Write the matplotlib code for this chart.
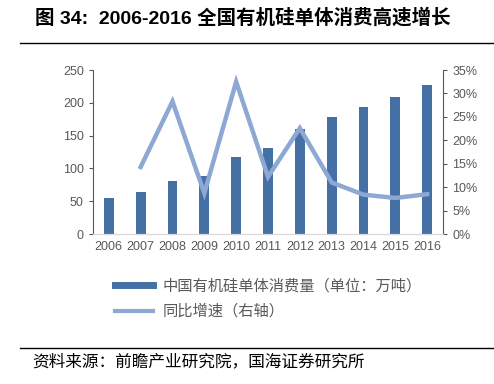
import matplotlib
matplotlib.use("Agg")
import matplotlib.pyplot as plt
from matplotlib.ticker import FuncFormatter
from matplotlib.lines import Line2D

plt.rcParams['font.family'] = ['Liberation Sans', 'Noto Sans CJK SC', 'DejaVu Sans']

# data
years = ['2006', '2007', '2008', '2009', '2010', '2011', '2012', '2013', '2014', '2015', '2016']
consumption = [55.5, 63.6, 81.2, 88.3, 117, 131, 160.6, 179, 194.4, 209.6, 227]
growth_years = years[1:]
growth = [14.3, 28.3, 8.7, 32.5, 12.2, 22.6, 11.0, 8.4, 7.7, 8.5]

bar_color = '#4470A6'
line_color = '#8EA8D4'
spine_color = '#5E4F70'
text_color = '#595959'

fig = plt.figure(figsize=(4.94, 3.84), dpi=100)
ax = fig.add_axes([0.188, 0.3906, 0.709, 0.427])

x = list(range(len(years)))
ax.bar(x, consumption, width=0.31, color=bar_color, zorder=2)
ax.set_xlim(-0.5, len(years) - 0.5)
ax.set_ylim(0, 250)
ax.set_yticks(range(0, 251, 50))
ax.set_xticks(x)
ax.set_xticklabels(years)

ax2 = ax.twinx()
gx = [years.index(y) for y in growth_years]
ax2.plot(gx, growth, color=line_color, lw=3.2, solid_joinstyle='miter', zorder=3)
ax2.set_ylim(0, 35)
ax2.set_yticks(range(0, 36, 5))
ax2.yaxis.set_major_formatter(FuncFormatter(lambda v, p: f'{int(v)}%'))

for a in (ax, ax2):
    a.spines['top'].set_visible(False)
    a.spines['bottom'].set_color('#D9D9D9')
    a.spines['left'].set_color(spine_color)
    a.spines['right'].set_color(spine_color)
    a.tick_params(labelsize=9, colors=text_color, length=3)
    a.tick_params(axis='x', length=0, pad=5)
ax.spines['right'].set_visible(False)
ax2.spines['left'].set_visible(False)
ax.tick_params(axis='y', color=spine_color)
ax2.tick_params(axis='y', color=spine_color)
ax2.set_zorder(ax.get_zorder() + 1)

# title and rules
fig.text(0.07, 0.953, '图 34:  2006-2016 全国有机硅单体消费高速增长', fontsize=14,
         fontweight='bold', color='black', va='center',
         family=['Liberation Sans', 'Noto Sans CJK SC'])
fig.add_artist(Line2D([0.04, 1.0], [0.888, 0.888], color='black', lw=1))
fig.add_artist(Line2D([0.04, 1.0], [0.094, 0.094], color='black', lw=1))

# legend
handles = [Line2D([0], [0], color=bar_color, lw=5),
           Line2D([0], [0], color=line_color, lw=3)]
labels = ['中国有机硅单体消费量（单位：万吨）', '同比增速（右轴）']
fig.legend(handles, labels, loc='center left', bbox_to_anchor=(0.205, 0.222),
           frameon=False, handlelength=2.5, labelspacing=0.55, handletextpad=0.6,
           labelcolor=text_color, prop={'family': ['Noto Sans CJK SC'], 'size': 11})

fig.text(0.065, 0.057, '资料来源：前瞻产业研究院，国海证券研究所', fontsize=12,
         color='black', va='center', family=['Noto Sans CJK SC'])

fig.savefig('out.png', dpi=100)
